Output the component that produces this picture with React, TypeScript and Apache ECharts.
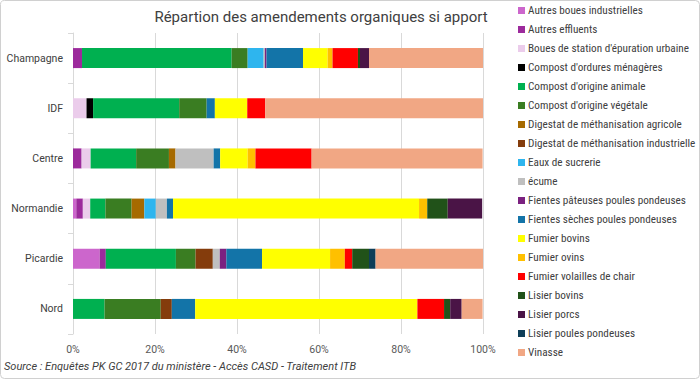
import React, { useEffect, useRef } from "react";
import * as echarts from "echarts";

const regions = ["Champagne", "IDF", "Centre", "Normandie", "Picardie", "Nord"];

const seriesNames = [
  "Autres boues industrielles",
  "Autres effluents",
  "Boues de station d'épuration urbaine",
  "Compost d'ordures ménagères",
  "Compost d'origine animale",
  "Compost d'origine végétale",
  "Digestat de méthanisation agricole",
  "Digestat de méthanisation industrielle",
  "Eaux de sucrerie",
  "écume",
  "Fientes pâteuses poules pondeuses",
  "Fientes sèches poules pondeuses",
  "Fumier bovins",
  "Fumier ovins",
  "Fumier volailles de chair",
  "Lisier bovins",
  "Lisier porcs",
  "Lisier poules pondeuses",
  "Vinasse",
];

// values in %, order: Champagne, IDF, Centre, Normandie, Picardie, Nord
const autresBoues = [0, 0, 0, 0.8, 6.5, 0];
const autresEffluents = [2.2, 0, 2.1, 1.6, 1.5, 0];
const bouesStation = [0, 3.3, 2.2, 1.8, 0, 0];
const compostOrdures = [0, 1.6, 0, 0, 0, 0];
const compostAnimale = [36.5, 21.0, 11.1, 3.7, 17.1, 7.7];
const compostVegetale = [3.9, 6.7, 8.0, 6.4, 4.8, 13.7];
const digestatAgricole = [0, 0, 1.6, 3.1, 0, 0];
const digestatIndustrielle = [0, 0, 0, 0, 4.2, 2.7];
const eauxSucrerie = [3.9, 0, 0, 2.8, 0, 0];
const ecume = [0.3, 0, 9.3, 2.7, 1.7, 0];
const fientesPateuses = [0.4, 0, 0, 0, 1.6, 0];
const fientesSeches = [8.9, 2.0, 1.6, 1.5, 8.7, 5.7];
const fumierBovins = [6.0, 7.9, 6.7, 60.0, 16.6, 54.2];
const fumierOvins = [1.2, 0, 1.9, 2.0, 3.6, 0];
const fumierVolailles = [6.2, 4.4, 13.7, 0, 1.8, 6.5];
const lisierBovins = [0.5, 0, 0, 5.0, 4.1, 1.5];
const lisierPorcs = [2.2, 0, 0, 8.4, 0, 2.8];
const lisierPoules = [0, 0, 0, 0, 1.6, 0];
const vinasse = [27.8, 53.1, 41.7, 0, 26.2, 5.1];

const seriesValues = [
  autresBoues, autresEffluents, bouesStation, compostOrdures, compostAnimale,
  compostVegetale, digestatAgricole, digestatIndustrielle, eauxSucrerie, ecume,
  fientesPateuses, fientesSeches, fumierBovins, fumierOvins, fumierVolailles,
  lisierBovins, lisierPorcs, lisierPoules, vinasse,
];

const colors = [
  "#CC66CC", "#9C2A9C", "#EBCCEB", "#000000", "#00B050",
  "#3A7D22", "#A66A00", "#843C0C", "#2EB5EE", "#BFBFBF",
  "#7B2180", "#1374A8", "#FFFF00", "#FFC000", "#FF0000",
  "#215219", "#4A1446", "#0E3E58", "#F1A784",
];

const xTicks = [0, 20, 40, 60, 80, 100];

const FONT = "Roboto";
const NARROW = "'Liberation Sans Narrow', 'Roboto Condensed', Roboto";

export default function App() {
  const ref = useRef<HTMLDivElement>(null);
  useEffect(() => {
    if (!ref.current) return;
    const chart = echarts.init(ref.current, undefined, { renderer: "svg" });
    chart.setOption({
      animation: false,
      backgroundColor: "#ffffff",
      color: colors,
      title: {
        text: "Répartion des amendements organiques si apport",
        left: 316,
        textAlign: "center",
        top: 4,
        textStyle: { fontFamily: FONT, fontSize: 15, fontWeight: "normal", color: "#404040" },
      },
      legend: {
        orient: "vertical",
        left: 513,
        top: -1,
        itemWidth: 7,
        itemHeight: 7,
        itemGap: 6,
        icon: "rect",
        data: seriesNames,
        textStyle: { fontFamily: NARROW, fontSize: 11.2, color: "#404040", lineHeight: 13, padding: [0, 0, 0, -2] },
      },
      grid: { left: 73, right: 217, top: 33, bottom: 45, containLabel: false },
      xAxis: {
        type: "value",
        min: xTicks[0],
        max: xTicks[xTicks.length - 1],
        interval: 20,
        axisLabel: {
          formatter: (v: number) => v + "%",
          fontFamily: FONT,
          fontSize: 10.5,
          color: "#595959",
          margin: 10,
        },
        axisLine: { show: false },
        axisTick: { show: false },
        splitLine: { lineStyle: { color: "#D9D9D9", width: 1 } },
      },
      yAxis: {
        type: "category",
        data: regions,
        inverse: true,
        axisLine: { lineStyle: { color: "#D9D9D9" } },
        axisTick: { show: true, length: 5, lineStyle: { color: "#D9D9D9" } },
        axisLabel: { fontFamily: FONT, fontSize: 10.5, color: "#404040", margin: 10 },
      },
      graphic: [
        {
          type: "rect",
          shape: { x: 0.5, y: 0.5, width: 699, height: 378, r: 4 },
          style: { fill: "none", stroke: "#D0D0D0", lineWidth: 1 },
          silent: true,
        },
        {
          type: "text",
          left: 4,
          top: 361,
          style: {
            text: "Source : Enquêtes PK GC 2017 du ministère - Accès CASD - Traitement ITB",
            fontFamily: FONT,
            fontSize: 11,
            fontStyle: "italic",
            fill: "#404040",
          },
        },
      ],
      series: seriesNames.map((name, i) => ({
        name,
        type: "bar",
        stack: "total",
        barWidth: 20,
        data: seriesValues[i],
        itemStyle: { color: colors[i] },
      })),
    });
    return () => chart.dispose();
  }, []);
  return <div ref={ref} style={{ width: 700, height: 379, position: "absolute", left: 0, top: 0 }} />;
}
